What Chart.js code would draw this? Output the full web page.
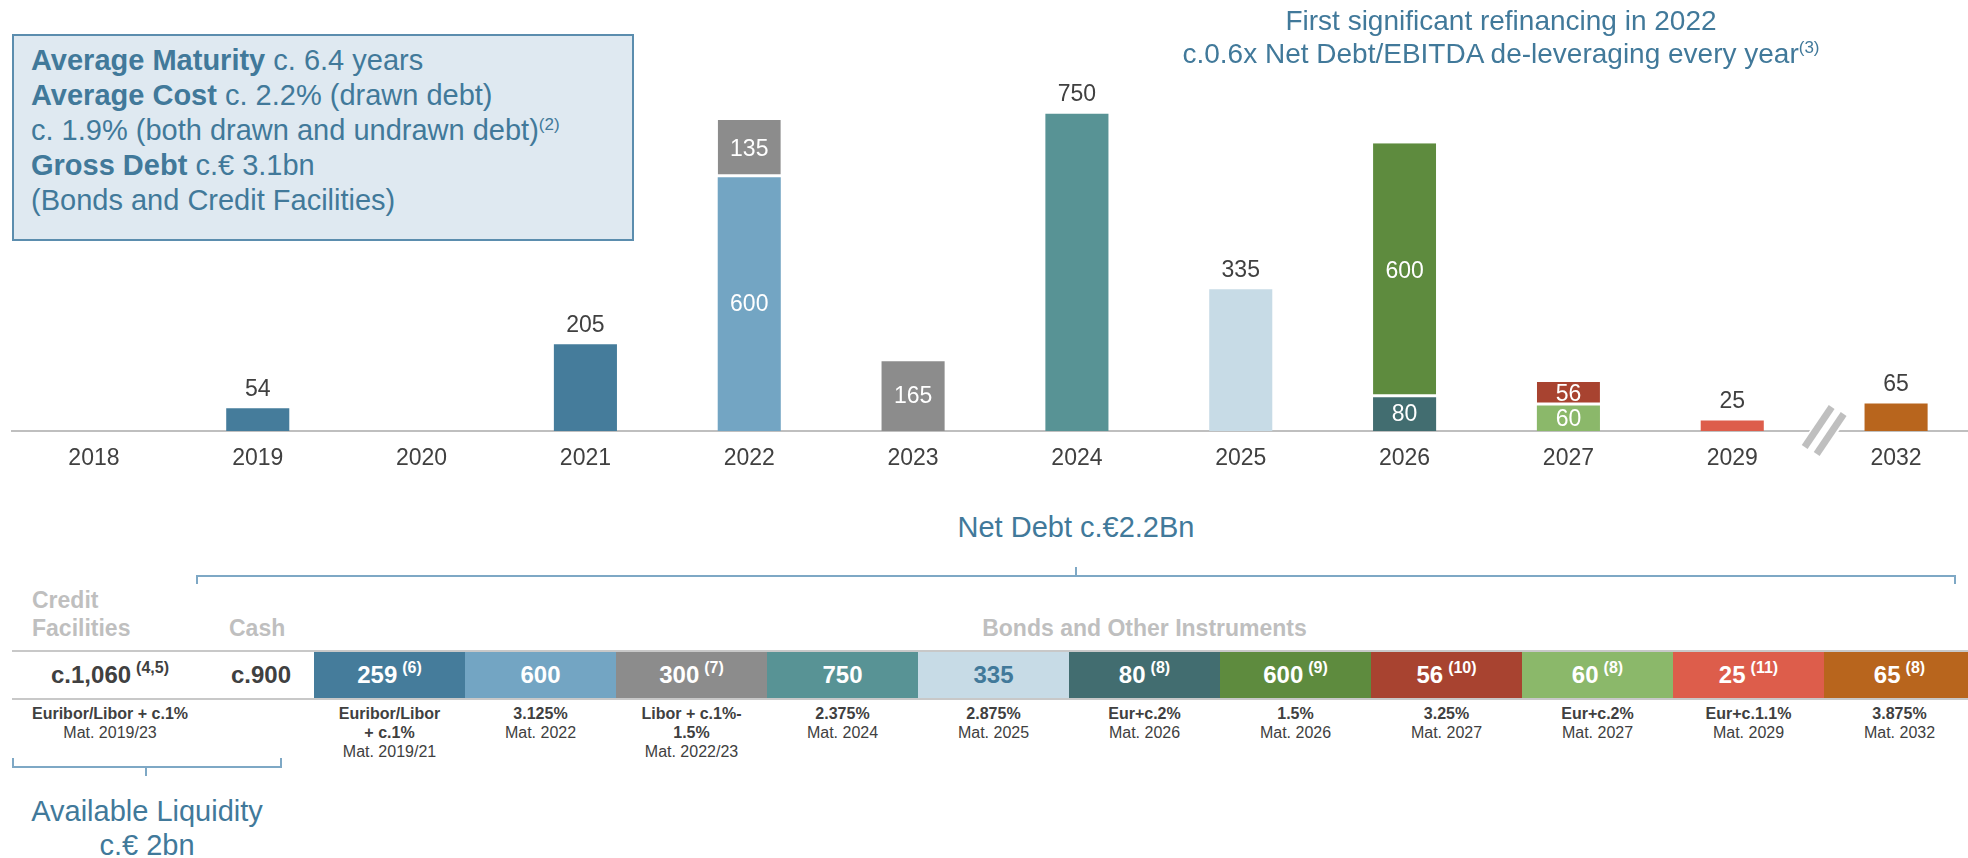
<!DOCTYPE html>
<html>
<head>
<meta charset="utf-8">
<script src="https://cdn.jsdelivr.net/npm/chart.js@4.4.1/dist/chart.umd.min.js"></script>
<style>
  body { margin: 0; width: 1968px; height: 858px; overflow: hidden; background: #fff;
         font-family: Arial, "Liberation Sans", sans-serif; position: relative; }
  .abs { position: absolute; }
  #chartWrap { position: absolute; left: 0; top: 0; width: 1990px; height: 490px; }
  #infoBox { left: 12px; top: 34px; width: 622px; height: 207px; background: #dfe9f1;
             border: 2px solid #5b8dae; color: #41799a; font-size: 29px; line-height: 35px;
             padding: 7px 0 0 17px; box-sizing: border-box; }
  #infoBox b { font-weight: bold; }
  sup.small { font-size: 17px; vertical-align: 0; position: relative; top: -10px; line-height: 0; }
  #title { left: 1100px; width: 802px; top: 4px; text-align: center; color: #41799a;
           font-size: 28px; line-height: 33px; }
  .blueText { color: #41799a; font-size: 29px; text-align: center; }
  .bracket { border-color: #7ea8c5; border-style: solid; border-width: 0; }
  .hdr { color: #bfbfbf; font-weight: bold; font-size: 23px; line-height: 28px; }
  #row { left: 12px; top: 650px; width: 1970px; height: 46px; border-top: 2px solid #c8c8c8;
         border-bottom: 2px solid #c8c8c8; }
  .cell { position: absolute; top: 0; height: 46px; display: flex; align-items: center;
          justify-content: center; font-weight: bold; font-size: 24px; color: #fff; }
  .cell sup { font-size: 16px; vertical-align: 0; position: relative; top: -7px; margin-left: 5px; line-height: 0; }
  .sub { position: absolute; top: 704px; text-align: center; font-size: 16px; line-height: 19px; color: #404040; }
</style>
</head>
<body>
<div id="chartWrap"><canvas id="debtChart"></canvas></div>

<div id="infoBox" class="abs">
  <b>Average Maturity</b> c. 6.4 years<br>
  <b>Average Cost</b> c. 2.2% (drawn debt)<br>
  c. 1.9% (both drawn and undrawn debt)<sup class="small">(2)</sup><br>
  <b>Gross Debt</b> c.€ 3.1bn<br>
  (Bonds and Credit Facilities)
</div>

<div id="title" class="abs">First significant refinancing in 2022<br>c.0.6x Net Debt/EBITDA de-leveraging every year<sup class="small">(3)</sup></div>

<!-- net debt bracket -->
<div class="abs blueText" style="left:876px; width:400px; top:509px; line-height:36px;">Net Debt c.€2.2Bn</div>
<div class="abs bracket" style="left:196px; top:575px; width:1760px; height:9px; border-width:2px 2px 0 2px; box-sizing:border-box;"></div>
<div class="abs" style="left:1075px; top:567px; width:2px; height:9px; background:#7ea8c5;"></div>

<!-- table headers -->
<div class="abs hdr" style="left:32px; top:586px;">Credit<br>Facilities</div>
<div class="abs hdr" style="left:229px; top:614px;">Cash</div>
<div class="abs hdr" style="left:314px; width:1661px; top:614px; text-align:center;">Bonds and Other Instruments</div>

<div id="row" class="abs"></div>

<!-- liquidity bracket -->
<div class="abs bracket" style="left:12px; top:758px; width:270px; height:10px; border-width:0 2px 2px 2px; box-sizing:border-box;"></div>
<div class="abs" style="left:145px; top:767px; width:2px; height:9px; background:#7ea8c5;"></div>
<div class="abs blueText" style="left:0px; width:294px; top:794px; line-height:34px;">Available Liquidity<br>c.€ 2bn</div>

<script>
// ---------------- DATA ----------------
const years = ["2018", "2019", "2020", "2021", "2022", "2023", "2024", "2025", "2026", "2027", "2029", "2032"];
const lowerValues = [null, 54, null, 205, 600, 165, 750, 335, 80, 60, 25, 65];
const upperValues = [null, null, null, null, 135, null, null, null, 600, 56, null, null];
const lowerColors = ["#457c9b", "#457c9b", "#457c9b", "#457c9b", "#73a5c3", "#8c8c8c", "#589395", "#c7dbe6", "#426d70", "#8bb86a", "#dd5d4b", "#b8651d"];
const upperColors = ["#fff", "#fff", "#fff", "#fff", "#8c8c8c", "#fff", "#fff", "#fff", "#5e8b3e", "#a84330", "#fff", "#fff"];
const labelInside = [false, false, false, false, true, true, false, false, true, true, false, false];

const facility = { value: "c.1,060", note: "(4,5)", rate: ["Euribor/Libor + c.1%"], maturity: "Mat. 2019/23" };
const cash = { value: "c.900" };
const bondValues = [259, 600, 300, 750, 335, 80, 600, 56, 60, 25, 65];
const bondNotes = ["(6)", "", "(7)", "", "", "(8)", "(9)", "(10)", "(8)", "(11)", "(8)"];
const bondRates = [["Euribor/Libor", "+ c.1%"], ["3.125%"], ["Libor + c.1%-", "1.5%"], ["2.375%"], ["2.875%"],
                   ["Eur+c.2%"], ["1.5%"], ["3.25%"], ["Eur+c.2%"], ["Eur+c.1.1%"], ["3.875%"]];
const bondMaturities = ["Mat. 2019/21", "Mat. 2022", "Mat. 2022/23", "Mat. 2024", "Mat. 2025", "Mat. 2026",
                        "Mat. 2026", "Mat. 2027", "Mat. 2027", "Mat. 2029", "Mat. 2032"];
const bondColors = ["#457c9b", "#73a5c3", "#8c8c8c", "#589395", "#c7dbe6", "#426d70", "#5e8b3e", "#a84330", "#8bb86a", "#dd5d4b", "#b8651d"];
const bondTextColors = ["#fff", "#fff", "#fff", "#fff", "#41799a", "#fff", "#fff", "#fff", "#fff", "#fff", "#fff"];

// ---------------- BOTTOM TABLE ----------------
const row = document.getElementById("row");
const CELL_W = 151, BOND_X = 302; // relative to row left (12px)

function addCell(left, width, value, note, bg, color) {
  const c = document.createElement("div");
  c.className = "cell";
  c.style.left = left + "px";
  c.style.width = width + "px";
  if (bg) c.style.background = bg;
  c.style.color = color;
  c.innerHTML = value + (note ? "<sup>" + note + "</sup>" : "");
  row.appendChild(c);
}
function addSub(left, width, boldLines, maturity) {
  if (!boldLines.length && !maturity) return;
  const s = document.createElement("div");
  s.className = "sub";
  s.style.left = (12 + left) + "px";
  s.style.width = width + "px";
  s.innerHTML = boldLines.map(l => "<b>" + l + "</b>").join("<br>") + (maturity ? "<br>" + maturity : "");
  document.body.appendChild(s);
}

addCell(0, 196, facility.value, facility.note, null, "#404040");
addSub(0, 196, facility.rate, facility.maturity);
addCell(196, 106, cash.value, "", null, "#404040");
bondValues.forEach((v, i) => {
  addCell(BOND_X + i * CELL_W, CELL_W, v, bondNotes[i], bondColors[i], bondTextColors[i]);
  addSub(BOND_X + i * CELL_W, CELL_W, bondRates[i], bondMaturities[i]);
});

// ---------------- LABELS + AXIS BREAK ----------------
const barLabels = {
  id: "barLabels",
  afterDatasetsDraw(chart) {
    const ctx = chart.ctx;
    ctx.save();
    ctx.font = "23px Arial, 'Liberation Sans', sans-serif";
    ctx.textAlign = "center";
    ctx.textBaseline = "middle";
    chart.data.datasets.forEach((ds, di) => {
      chart.getDatasetMeta(di).data.forEach((bar, i) => {
        const v = ds.data[i];
        if (v == null) return;
        if (labelInside[i]) {
          ctx.fillStyle = "#fff";
          ctx.fillText(v, bar.x, (bar.y + bar.base) / 2 + 1);
        } else {
          ctx.fillStyle = "#404040";
          ctx.fillText(v, bar.x, bar.y - 19);
        }
      });
    });

    // axis break between the last two years
    const xs = chart.scales.x;
    const x = (xs.getPixelForValue(years.length - 2) + xs.getPixelForValue(years.length - 1)) / 2 + 10;
    const y = chart.chartArea.bottom;
    ctx.strokeStyle = "#fff";
    ctx.lineWidth = 24;
    ctx.beginPath(); ctx.moveTo(x - 14, y + 20); ctx.lineTo(x + 14, y - 20); ctx.stroke();
    ctx.strokeStyle = "#bfbfbf";
    ctx.lineWidth = 7;
    ctx.beginPath(); ctx.moveTo(x - 19.5, y + 16); ctx.lineTo(x + 7.5, y - 24); ctx.stroke();
    ctx.beginPath(); ctx.moveTo(x - 7.5, y + 23); ctx.lineTo(x + 19.5, y - 17); ctx.stroke();
    ctx.restore();
  }
};

// ---------------- MATURITY CHART ----------------
new Chart(document.getElementById("debtChart"), {
  type: "bar",
  data: {
    labels: years,
    datasets: [
      {
        data: lowerValues,
        backgroundColor: lowerColors,
        barPercentage: 0.385,
        categoryPercentage: 1
      },
      {
        data: upperValues,
        backgroundColor: upperColors,
        borderColor: "#fff",
        borderWidth: { top: 0, left: 0, right: 0, bottom: 3 },
        borderSkipped: false,
        barPercentage: 0.385,
        categoryPercentage: 1
      }
    ]
  },
  options: {
    responsive: true,
    maintainAspectRatio: false,
    animation: false,
    layout: { padding: { top: 8, left: 12, right: 12, bottom: 0 } },
    plugins: { legend: { display: false }, tooltip: { enabled: false } },
    scales: {
      x: {
        stacked: true,
        grid: { display: false, drawTicks: false },
        border: { display: true, color: "#bfbfbf", width: 2 },
        ticks: { color: "#404040", font: { size: 23, family: "Arial, 'Liberation Sans', sans-serif" }, padding: 14 },
        afterFit: s => { s.height = 59; }
      },
      y: { stacked: true, display: false, min: 0, max: 1000 }
    }
  },
  plugins: [barLabels]
});
</script>
</body>
</html>
